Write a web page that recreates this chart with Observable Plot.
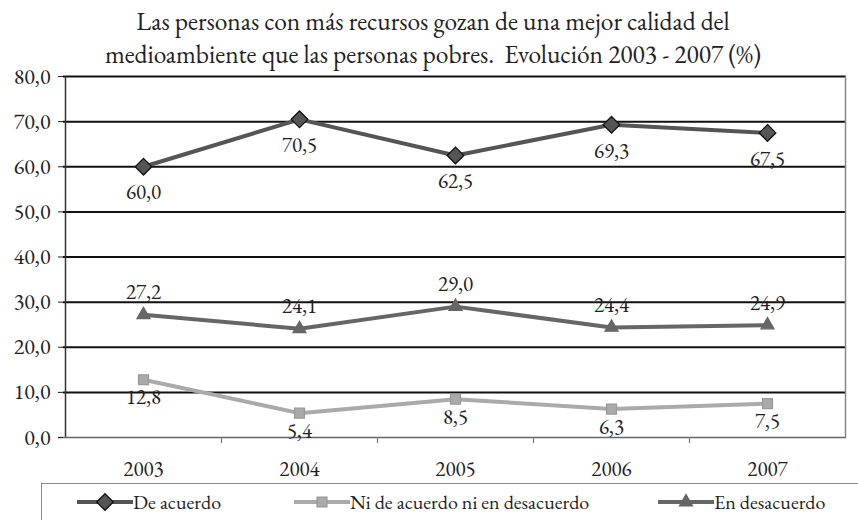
<!DOCTYPE html>
<html>
<head>
<meta charset="utf-8">
<script src="https://cdn.jsdelivr.net/npm/d3@7"></script>
<script src="https://cdn.jsdelivr.net/npm/@observablehq/plot@0.6"></script>
<style>
  html, body { margin: 0; padding: 0; background: #fff; }
  body, body * { font-family: 'EB Garamond', 'Liberation Serif', serif !important; }
  body { width: 858px; height: 520px; overflow: hidden; color: #222; position: relative; }
  #title { text-align: center; font-size: 25.5px; line-height: 33px; height: 68px; padding-top: 5px; padding-left: 8px; box-sizing: border-box; white-space: nowrap; }
  #legend { position: absolute; left: 41px; top: 483px; width: 840px; height: 50px; border: 1.5px solid #888; box-sizing: border-box; font-size: 20px; }
  .item { position: absolute; top: 5px; display: flex; align-items: center; }
</style>
</head>
<body style="font-family:'EB Garamond','Liberation Serif',serif">
<div id="title" style="font-family:'EB Garamond','Liberation Serif',serif">Las personas con más recursos gozan de una mejor calidad del<br>medioambiente que las personas pobres.&nbsp; Evolución 2003 - 2007 (%)</div>
<div id="chart"></div>
<div id="legend"></div>
<script>
const years = ["2003", "2004", "2005", "2006", "2007"];
const seriesNames = ["De acuerdo", "Ni de acuerdo ni en desacuerdo", "En desacuerdo"];
const deAcuerdo = [60.0, 70.5, 62.5, 69.3, 67.5];
const niNi = [12.8, 5.4, 8.5, 6.3, 7.5];
const enDesacuerdo = [27.2, 24.1, 29.0, 24.4, 24.9];
const yTicks = [0, 10, 20, 30, 40, 50, 60, 70, 80];

const FONT = "'EB Garamond', 'Liberation Serif', serif";
const styles = {
  "De acuerdo": {color: "#555555", symbol: "diamond2", r: 7.5, stroke: "#111", dy: 26},
  "Ni de acuerdo ni en desacuerdo": {color: "#aaaaaa", symbol: "square", r: 5.6, stroke: "#9a9a9a", dy: 18},
  "En desacuerdo": {color: "#666666", symbol: "triangle", r: 4.8, stroke: "#666666", dy: -22}
};
const valuesBySeries = [deAcuerdo, niNi, enDesacuerdo];
const fmt = d => d.toFixed(1).replace(".", ",");

const marks = [
  Plot.ruleY(yTicks.slice(1), {stroke: "#111", strokeWidth: 2}),
  Plot.ruleX([years[0]], {stroke: "#333", strokeWidth: 1.5, dx: -78}),
  Plot.ruleX([years[4]], {stroke: "#888", strokeWidth: 1.5, dx: 78}),
  Plot.ruleY([0], {stroke: "#666", strokeWidth: 1.5, insetLeft: -5}),
  Plot.ruleX(years.slice(1), {x: d => d, y1: 0, y2: 0, insetBottom: -6, dx: -78, stroke: "#777", strokeWidth: 1.2}),
  Plot.axisY({ticks: yTicks, tickFormat: fmt, tickSize: 5, tickPadding: 8, fontSize: 22, label: null}),
  Plot.axisX({tickSize: 0, tickPadding: 24, fontSize: 21, label: null})
];

seriesNames.forEach((name, k) => {
  const s = styles[name];
  const data = years.map((yr, i) => ({year: yr, value: valuesBySeries[k][i]}));
  marks.push(
    Plot.line(data, {x: "year", y: "value", stroke: s.color, strokeWidth: 4}),
    Plot.dot(data, {x: "year", y: "value", symbol: s.symbol, r: s.r, fill: s.color, stroke: s.stroke, strokeWidth: 1.3}),
    Plot.text(data, {x: "year", y: "value", text: d => fmt(d.value), dy: s.dy, fontSize: 21, fill: "#222"})
  );
});

const chart = Plot.plot({
  width: 858,
  height: 412,
  marginTop: 8,
  marginLeft: 63,
  marginRight: 12,
  marginBottom: 43,
  style: {fontFamily: FONT, fontSize: "21px", color: "#222", background: "#fff", overflow: "visible"},
  x: {type: "point", domain: years, padding: 0.5},
  y: {domain: [0, 80]},
  marks
});
chart.style.fontFamily = FONT;
document.getElementById("chart").appendChild(chart);

// legend
const legend = document.getElementById("legend");
const lefts = [35, 252, 616];
const symbolFns = {diamond2: d3.symbolDiamond2, square: d3.symbolSquare, triangle: d3.symbolTriangle};
seriesNames.forEach((name, k) => {
  const s = styles[name];
  const item = document.createElement("div");
  item.className = "item";
  item.style.left = lefts[k] + "px";
  const sym = d3.symbol(symbolFns[s.symbol], Math.PI * s.r * s.r)();
  item.innerHTML = `<svg width="56" height="24"><line x1="0" x2="56" y1="12" y2="12" stroke="${s.color}" stroke-width="4"/><path transform="translate(28,12)" d="${sym}" fill="${s.color}" stroke="${s.stroke}" stroke-width="1.3"/></svg><span>${name}</span>`;
  legend.appendChild(item);
});
</script>
</body>
</html>
